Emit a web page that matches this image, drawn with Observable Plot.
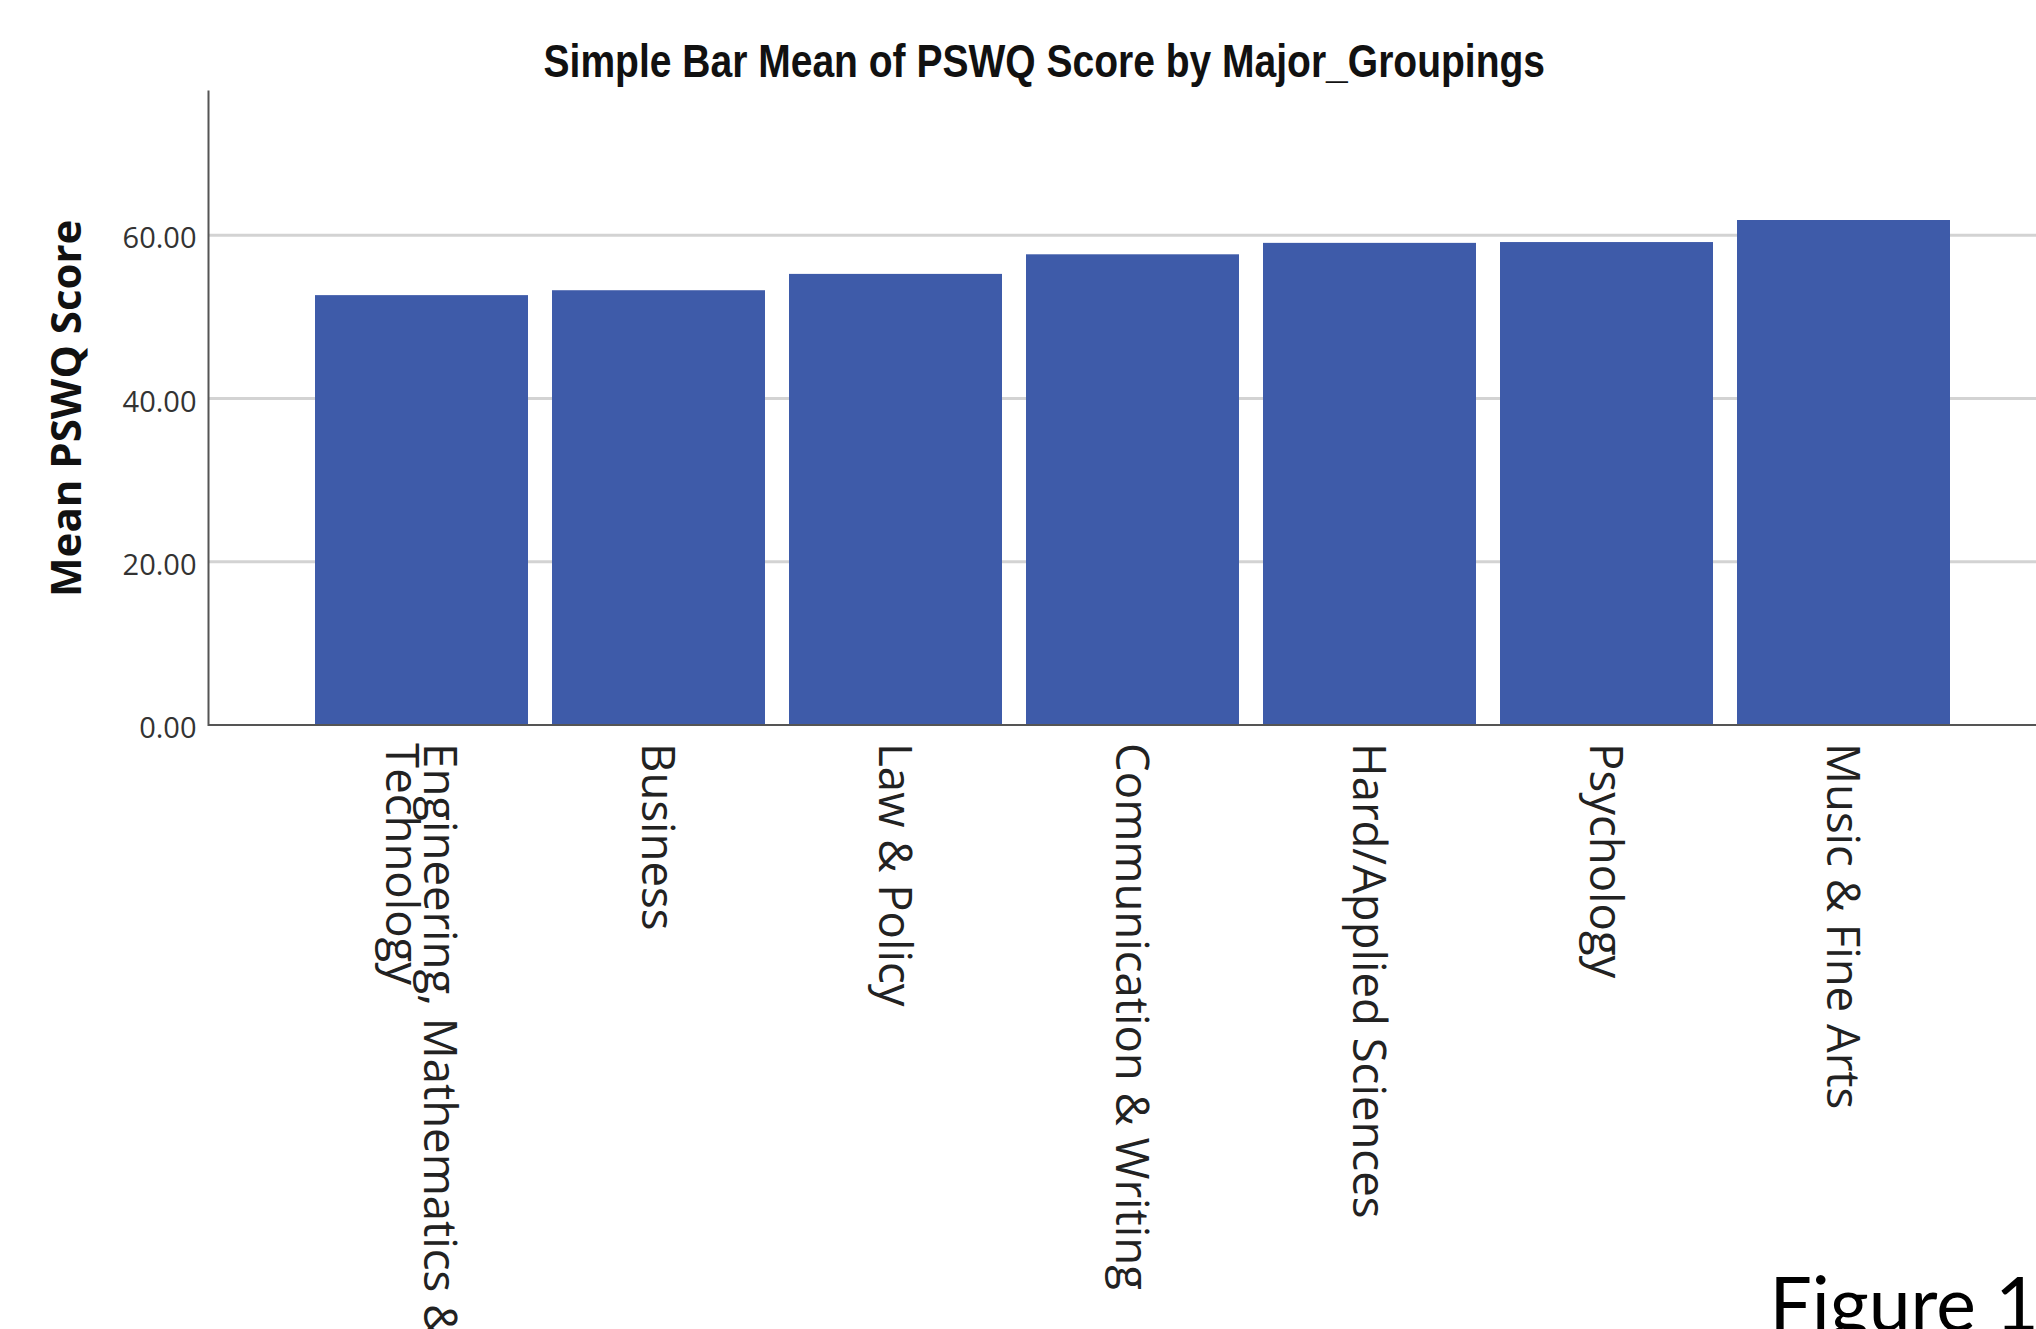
<!DOCTYPE html>
<html><head><meta charset="utf-8">
<script src="https://cdn.jsdelivr.net/npm/d3@7"></script>
<script src="https://cdn.jsdelivr.net/npm/@observablehq/plot@0.6"></script>
<style>
html,body{margin:0;padding:0;background:#fff;overflow:hidden;width:2036px;height:1329px;}
#title{position:absolute;z-index:2;left:52px;width:1984px;top:33px;text-align:center;line-height:47px;font:bold 47px "Liberation Sans",Arial,sans-serif;color:#111;}
#title span{display:inline-block;transform:scaleX(0.83);transform-origin:center;white-space:nowrap;}
#chart{position:absolute;z-index:1;left:0;top:80px;}
</style></head><body>
<div id="title"><span>Simple Bar Mean of PSWQ Score by Major_Groupings</span></div>
<div id="chart"></div>
<script>
const categories = [
  "Engineering, Mathematics & Technology",
  "Business",
  "Law & Policy",
  "Communication & Writing",
  "Hard/Applied Sciences",
  "Psychology",
  "Music & Fine Arts"
];
const tickLabels = [
  "Engineering, Mathematics &\nTechnology",
  "Business",
  "Law & Policy",
  "Communication & Writing",
  "Hard/Applied Sciences",
  "Psychology",
  "Music & Fine Arts"
];
const means = [52.6, 53.2, 55.2, 57.6, 59.0, 59.1, 61.8];
const yTicks = [0, 20, 40, 60];
const gridValues = [20, 40, 60];
const yTitle = "Mean PSWQ Score";
const caption = "Figure 1";

const data = categories.map((c, i) => ({category: c, label: tickLabels[i], mean: means[i], base: 0}));

const plot = Plot.plot({
  width: 2036,
  height: 1249,
  marginTop: 11,
  marginBottom: 604.4,
  marginLeft: 208,
  marginRight: 0,
  style: {background: "none", overflow: "visible"},
  x: {type: "band", domain: categories, paddingInner: 0.1, paddingOuter: 0.397, align: 0.557, axis: null},
  y: {domain: [0, 77.6]},
  marks: [
    Plot.ruleY(gridValues, {stroke: "#d3d3d3", strokeWidth: 3}),
    Plot.barY(data, {x: "category", y: "mean", fill: "#3e5ba9"}),
    Plot.ruleY([0], {stroke: "#555", strokeWidth: 2}),
    Plot.frame({anchor: "left", stroke: "#555", strokeWidth: 2}),
    Plot.axisY(yTicks, {tickSize: 0, tickPadding: 12, tickFormat: d => d.toFixed(2), fontSize: 29, fontFamily: "Open Sans", fill: "#333", label: null, dy: 4}),
    Plot.text(data, {x: "category", y: "base", text: "label", rotate: 90, textAnchor: "start", lineAnchor: "middle", lineHeight: 0.84, dy: 18, dx: -5, fontSize: 45.5, fontFamily: "Open Sans", fill: "#222"}),
    Plot.text([yTitle], {frameAnchor: "left", textAnchor: "middle", lineAnchor: "middle", rotate: -90, dx: -141, fontSize: 42, fontWeight: "bold", fontFamily: "Open Sans", fill: "#111"}),
    Plot.text([caption], {frameAnchor: "bottom-left", dx: 1561, dy: 605.4, textAnchor: "start", lineAnchor: "bottom", fontSize: 75, letterSpacing: "0.03em", fontFamily: "Lato", fill: "#000"})
  ]
});
document.getElementById("chart").appendChild(plot);
</script>
</body></html>
